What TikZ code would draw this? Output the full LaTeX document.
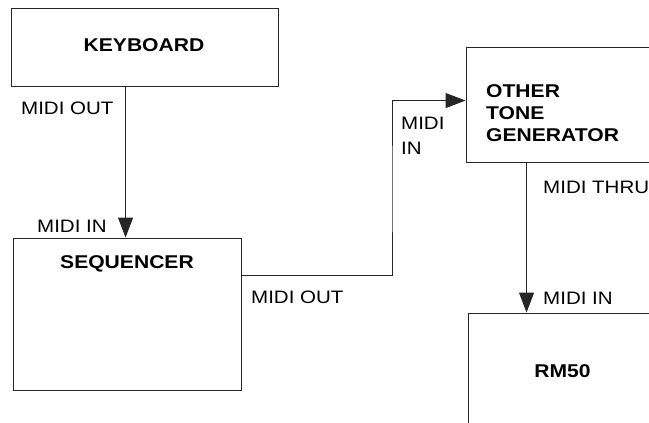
\documentclass[tikz,border=0pt]{standalone}
\usepackage{fontspec}
\newfontfamily\lblfont[FakeStretch=1.14]{Liberation Sans}
\usetikzlibrary{arrows.meta}
\begin{document}
\begin{tikzpicture}[x=1pt,y=-1pt,
  box/.style={draw=black!85, line width=0.9pt, rectangle, inner sep=0pt},
  conn/.style={draw=black!85, line width=0.9pt},
  arr/.style={conn, -{Triangle[length=20pt,width=15pt]}},
  lbl/.style={inner sep=0pt, anchor=base west, font=\lblfont\fontsize{18}{22}\selectfont},
  ttl/.style={inner sep=0pt, font=\lblfont\bfseries\fontsize{18.5}{22}\selectfont}]
\useasboundingbox (0,0) rectangle (649,423);
\clip (0,0) rectangle (649,423);
% boxes
\node[box, minimum width=267pt, minimum height=78pt] (kb) at (144.5,47) {};
\node[box, minimum width=228pt, minimum height=152pt] (seq) at (127,314) {};
\node[box, minimum width=260pt, minimum height=115pt] (otg) at (596,104.5) {};
\node[box, minimum width=260pt, minimum height=160pt] (rm) at (598,393) {};
% titles
\node[ttl, anchor=base] (kbt) at (144,52) {KEYBOARD};
\node[ttl, anchor=base] (seqt) at (127,268) {SEQUENCER};
\node[ttl, anchor=north west, align=left] (otgt) at (486,84) {OTHER\\TONE\\GENERATOR};
\node[ttl, anchor=base] (rmt) at (562.5,377) {RM50};
% connectors
\draw[arr] ([xshift=115pt]kb.south west) -- ([xshift=113pt]seq.north west);
\coordinate (bend) at (392,190);
\draw[arr] ([yshift=-38pt]seq.north east) -| (bend) |- ([yshift=-54pt]otg.north west);
\draw[arr] ([xshift=61pt]otg.south west) -- ([xshift=59pt]rm.north west);
% port labels
\node[lbl] (l1) at (21,114) {MIDI OUT};
\node[lbl] (l2) at (37,232) {MIDI IN};
\node[lbl] (l3) at (251,303) {MIDI OUT};
\node[lbl, anchor=north west, align=left, font=\lblfont\fontsize{18}{25}\selectfont] (l4) at (401,117) {MIDI\\IN};
\node[lbl] (l5) at (543,193) {MIDI THRU};
\node[lbl] (l6) at (543,304) {MIDI IN};
\end{tikzpicture}
\end{document}
